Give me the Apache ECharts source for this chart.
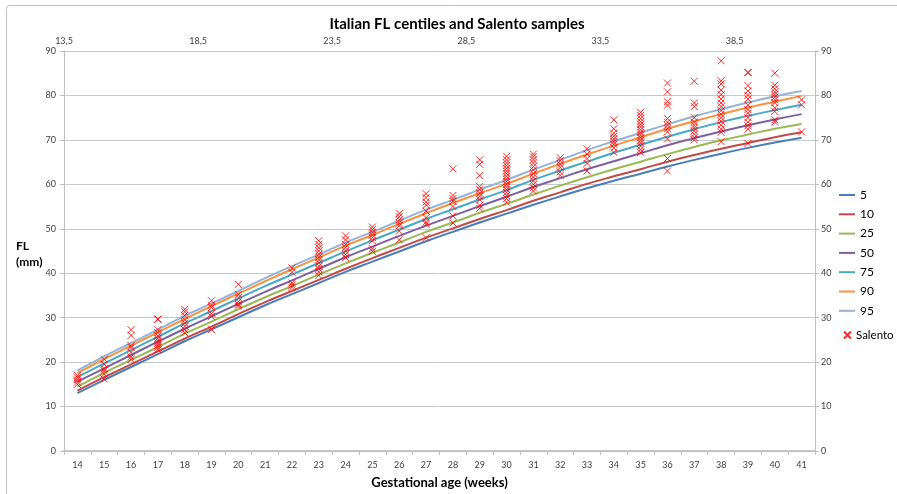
<!DOCTYPE html>
<html><head><meta charset="utf-8">
<script src="https://cdn.jsdelivr.net/npm/echarts@6/dist/echarts.min.js"></script>
<style>html,body{margin:0;padding:0;background:#fff}#c{width:897px;height:494px}</style>
</head><body><div id="c"></div>
<script>
const weeks = [14,15,16,17,18,19,20,21,22,23,24,25,26,27,28,29,30,31,32,33,34,35,36,37,38,39,40,41];
const topTicks = [13.5,18.5,23.5,28.5,33.5,38.5];
const centileNames = ['5','10','25','50','75','90','95'];
const p5  = [13.0,16.0,18.9,21.8,24.7,27.4,30.1,32.8,35.3,37.8,40.3,42.6,44.9,47.2,49.3,51.4,53.4,55.4,57.3,59.1,60.8,62.4,64.0,65.5,66.9,68.2,69.4,70.5];
const p10 = [13.6,16.6,19.5,22.4,25.3,28.0,30.8,33.5,36.0,38.5,41.0,43.4,45.7,48.0,50.1,52.2,54.2,56.3,58.2,60.1,61.8,63.4,65.1,66.6,68.0,69.3,70.6,71.7];
const p25 = [14.5,17.6,20.5,23.4,26.4,29.1,31.9,34.6,37.1,39.7,42.2,44.6,46.9,49.3,51.4,53.6,55.6,57.7,59.7,61.6,63.4,65.1,66.8,68.4,69.9,71.2,72.5,73.6];
const p50 = [15.6,18.6,21.6,24.6,27.5,30.3,33.1,35.8,38.4,41.0,43.6,46.0,48.4,50.7,52.9,55.1,57.2,59.4,61.4,63.4,65.2,67.0,68.8,70.4,71.9,73.3,74.6,75.8];
const p75 = [16.6,19.7,22.7,25.7,28.7,31.5,34.3,37.1,39.7,42.3,44.9,47.4,49.8,52.2,54.4,56.6,58.7,61.0,63.1,65.1,67.1,68.9,70.7,72.4,74.0,75.4,76.7,77.9];
const p90 = [17.5,20.7,23.7,26.7,29.7,32.6,35.4,38.2,40.9,43.5,46.2,48.6,51.1,53.5,55.8,58.0,60.1,62.4,64.6,66.7,68.7,70.6,72.5,74.2,75.8,77.3,78.6,79.9];
const p95 = [18.1,21.3,24.3,27.3,30.4,33.2,36.0,38.9,41.6,44.2,46.9,49.3,51.8,54.3,56.5,58.8,61.0,63.3,65.5,67.7,69.7,71.6,73.5,75.3,76.9,78.4,79.8,81.0];
const salentoWeeks = [14,15,16,17,18,19,20,22,23,24,25,26,27,28,29,30,31,32,33,34,35,36,37,38,39,40,41];
const salentoValues = [
  [17.0,16.5,16.0,15.5,15.0],
  [20.6,19.5,18.5,18.0,17.3,16.2],
  [27.3,26.0,23.7,23.3,22.2,21.2,20.6],
  [29.7,29.6,27.3,26.6,25.9,25.3,24.8,24.3,23.8,23.3,22.8],
  [31.9,31.3,30.5,29.5,28.8,28.1,27.3,26.6],
  [33.8,32.8,32.3,30.9,30.3,27.3],
  [37.5,35.2,34.5,33.6,33.0,32.6],
  [41.2,40.2,37.8,37.3,36.8],
  [47.3,46.5,45.7,45.0,44.3,43.6,43.0,42.3,41.6,41.0,40.3,39.5],
  [48.4,47.5,46.5,45.8,45.0,44.2,43.5],
  [50.4,49.8,49.2,48.6,48.0,47.3,45.5,44.9],
  [53.4,52.7,52.0,51.3,50.7,49.5,47.5],
  [57.9,57.0,56.0,55.3,54.0,52.5,51.5,51.0,48.0],
  [63.5,57.5,56.8,56.2,55.0,52.9,51.3],
  [65.5,64.5,62.0,59.5,58.8,58.0,57.3,56.5,55.3,54.6],
  [66.3,65.5,64.8,64.2,63.6,63.0,62.4,61.8,61.2,60.6,60.0,59.4,58.8,58.2,57.5,56.8,56.0],
  [66.8,66.2,65.5,64.8,64.0,63.2,62.4,61.6,60.8,60.0,59.2,58.5],
  [66.0,65.3,64.5,63.8,62.8,62.0],
  [68.0,66.8,65.8,64.7,63.0],
  [74.5,72.5,71.5,70.8,70.2,69.6,69.0,68.2,67.2],
  [76.2,75.5,74.8,74.1,73.5,72.9,72.3,71.7,71.1,70.5,69.9,69.3,68.6,67.8,67.2],
  [82.8,80.8,78.6,77.8,74.8,74.0,73.3,72.5,71.8,70.2,65.8,63.0],
  [83.2,78.3,77.5,75.0,74.0,73.3,72.7,72.0,71.3,70.5,70.0],
  [87.8,83.3,82.6,81.2,80.2,79.2,78.3,77.5,76.6,75.8,75.0,74.2,73.3,72.4,71.7,69.6],
  [85.2,85.1,82.2,81.0,80.0,79.2,77.8,76.8,76.0,75.0,74.0,73.2,72.4,69.2],
  [85.0,82.3,81.5,80.8,80.2,79.6,79.0,78.4,77.2,76.4,74.5,74.0],
  [79.0,77.9,71.8]
];
const centileData = [p5,p10,p25,p50,p75,p90,p95];
const colors = ['#4A7EBB','#BE4B48','#98B954','#7D60A0','#46AAC5','#F69240','#95B3D7'];

const chart = echarts.init(document.getElementById('c'), null, {renderer:'canvas'});
const FONT = 'Lato, "Liberation Sans", sans-serif';
const xSymbol = 'path://M0,0L10,10M10,0L0,10';

const scatterData = [];
salentoWeeks.forEach((w,i)=>salentoValues[i].forEach(v=>scatterData.push([String(w), v])));

const series = centileNames.map((n,i)=>({
  name:n, type:'line', xAxisIndex:0, yAxisIndex:0,
  data: centileData[i], symbol:'none', smooth:true,
  lineStyle:{color:colors[i], width:2}, itemStyle:{color:colors[i]},
  z:2
}));
series.push({
  name:'Salento', type:'scatter', xAxisIndex:0, yAxisIndex:0,
  data: scatterData, symbol:xSymbol, symbolSize:7,
  itemStyle:{color:'rgba(0,0,0,0)', borderColor:'#FF0000', borderWidth:1, opacity:0.85},
  z:3
});

const axisLine = {show:true, lineStyle:{color:'#bfbfbf', width:1}};
const labelStyle = {color:'#404040', fontSize:9, fontFamily:FONT};

chart.setOption({
  backgroundColor:'#fff',
  animation:false,
  title:{text:'Italian FL centiles and Salento samples', left:452, top:12, textAlign:'center',
    textStyle:{fontSize:15, fontWeight:'bold', color:'#000', fontFamily:FONT}},
  legend:[
    {data:centileNames.map(n=>({name:n, icon:'rect'})), orient:'vertical', left:834, top:184, itemWidth:16, itemHeight:2, itemGap:7.3,
     textStyle:{fontSize:12, color:'#000', fontFamily:FONT}},
    {data:[{name:'Salento', icon:xSymbol}], orient:'vertical', left:838, top:324, itemWidth:7, itemHeight:7,
     textStyle:{fontSize:11.5, color:'#000', fontFamily:FONT}}
  ],
  grid:{left:64, right:82, top:51, bottom:43, containLabel:false},
  xAxis:[
    {type:'category', data:weeks.map(String), position:'bottom', boundaryGap:true,
     axisLine:{show:true, lineStyle:{color:'#c8c8c8', width:2}},
     axisTick:{show:true, alignWithLabel:false, length:4, lineStyle:{color:'#bfbfbf'}},
     axisLabel:Object.assign({margin:10, interval:0}, labelStyle),
     splitLine:{show:false},
     name:'Gestational age (weeks)', nameLocation:'middle', nameGap:25,
     nameTextStyle:{fontSize:13, fontWeight:'bold', color:'#000', fontFamily:FONT}},
    {type:'value', position:'top', min:13.5, max:41.5, interval:5,
     axisLine:axisLine,
     axisTick:{show:true, inside:true, length:3, lineStyle:{color:'#bfbfbf'}},
     axisLabel:Object.assign({margin:5, showMaxLabel:false, formatter:v=>String(v).replace('.',',')}, labelStyle),
     splitLine:{show:false}}
  ],
  yAxis:[
    {type:'value', min:0, max:90, interval:10, position:'left',
     axisLine:axisLine, axisTick:{show:true, length:4, lineStyle:{color:'#bfbfbf'}},
     axisLabel:Object.assign({margin:8}, labelStyle),
     splitLine:{show:true, lineStyle:{color:'#c8c8c8', width:1}}},
    {type:'value', min:0, max:90, interval:10, position:'right',
     axisLine:axisLine, axisTick:{show:true, length:4, lineStyle:{color:'#bfbfbf'}},
     axisLabel:Object.assign({margin:6}, labelStyle),
     splitLine:{show:false}}
  ],
  graphic:[
    {type:'rect', left:4, top:3, shape:{x:0,y:0,width:910,height:510,r:3}, silent:true,
     style:{fill:'none', stroke:'#c0c0c0', lineWidth:1}, z:-1},
    {type:'text', left:16, top:238, style:{text:'FL\n(mm)', align:'center', fontSize:12, fontWeight:'bold', fill:'#000', fontFamily:FONT, lineHeight:16, x:14}}
  ],
  series: series
});
</script>
</body></html>
